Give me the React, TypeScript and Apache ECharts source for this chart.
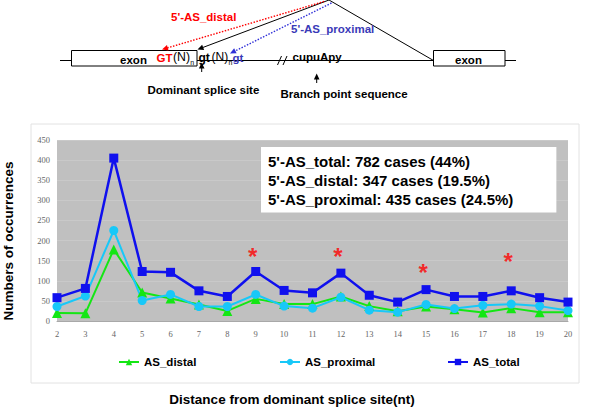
import React, { useEffect, useRef } from "react";
import * as echarts from "echarts";

// ---- data ----
const distances = ["2","3","4","5","6","7","8","9","10","11","12","13","14","15","16","17","18","19","20"];
const asDistal = [20, 19, 178, 71, 56, 41, 25, 55, 42, 42, 61, 37, 24, 36, 29, 21, 32, 22, 22];
const asProximal = [36, 62, 225, 51, 66, 36, 36, 66, 37, 32, 59, 27, 22, 41, 31, 39, 42, 37, 26];
const asTotal = [58, 81, 405, 123, 121, 75, 61, 123, 76, 70, 119, 64, 47, 78, 61, 61, 75, 58, 47];
const starDistances = ["9", "12", "15", "18"];
const starLevels = [172, 172, 133, 160];
const summaryLines = [
  "5'-AS_total: 782 cases (44%)",
  "5'-AS_distal: 347 cases (19.5%)",
  "5'-AS_proximal: 435 cases (24.5%)",
];
const yTicks = { min: 0, max: 450, interval: 50 };

const SANS = '"Liberation Sans", Arial, sans-serif';
const SERIF = '"Liberation Serif", "Times New Roman", serif';

function arrow(x1: number, y1: number, x2: number, y2: number, color: string, dashed: boolean, lw = 1) {
  const dx = x2 - x1, dy = y2 - y1;
  const len = Math.sqrt(dx * dx + dy * dy);
  const ux = dx / len, uy = dy / len;
  const hl = 6, hw = 2.8;
  const bx = x2 - ux * hl, by = y2 - uy * hl;
  const nx = -uy, ny = ux;
  return [
    {
      type: "line",
      shape: { x1, y1, x2: bx + ux * 1, y2: by + uy * 1 },
      style: { stroke: color, lineWidth: lw, lineDash: dashed ? [1.5, 1.5] : null },
      silent: true,
    },
    {
      type: "polygon",
      shape: { points: [[x2, y2], [bx + nx * hw, by + ny * hw], [bx - nx * hw, by - ny * hw]] },
      style: { fill: color },
      silent: true,
    },
  ];
}

function txt(x: number, y: number, text: string, opts: any = {}) {
  return {
    type: "text",
    x,
    y,
    rotation: opts.rotation || 0,
    silent: true,
    style: {
      text,
      fill: opts.fill || "#000",
      fontSize: opts.size || 11.5,
      fontWeight: opts.weight || "bold",
      fontFamily: SANS,
      align: opts.align || "left",
      verticalAlign: "middle",
    },
  };
}

export default function App() {
  const ref = useRef<HTMLDivElement>(null);
  useEffect(() => {
    if (!ref.current) return;
    const chart = echarts.init(ref.current, null, { renderer: "svg" });
    const red = "#ff0000";
    const blue = "#3a3ab8";
    const graphic: any[] = [
      // chart panel frame
      { type: "rect", shape: { x: 31, y: 124, width: 548, height: 259 }, style: { fill: "none", stroke: "#e2e2e2", lineWidth: 1 }, silent: true, z: -1 },
      // gene diagram
      { type: "line", shape: { x1: 60, y1: 60.5, x2: 71, y2: 60.5 }, style: { stroke: "#000", lineWidth: 1 } },
      { type: "line", shape: { x1: 197, y1: 60.5, x2: 433, y2: 60.5 }, style: { stroke: "#000", lineWidth: 1 } },
      { type: "line", shape: { x1: 505, y1: 60.5, x2: 516, y2: 60.5 }, style: { stroke: "#000", lineWidth: 1 } },
      { type: "rect", shape: { x: 71.5, y: 50.5, width: 125.5, height: 15.5 }, style: { fill: "#fff", stroke: "#000", lineWidth: 1 } },
      { type: "rect", shape: { x: 433.5, y: 50.5, width: 71.5, height: 15.5 }, style: { fill: "#fff", stroke: "#000", lineWidth: 1 } },
      { type: "line", shape: { x1: 329, y1: 0, x2: 433.5, y2: 60.5 }, style: { stroke: "#000", lineWidth: 1 } },
      ...arrow(329, 0, 197.5, 49.5, "#000", false, 1),
      ...arrow(324, 1.5, 162, 49.5, red, true, 1.4),
      ...arrow(331.5, 3, 230, 53.5, "#2f2fd8", true, 1.4),
      // double slash
      { type: "line", shape: { x1: 277.5, y1: 65, x2: 281.5, y2: 56 }, style: { stroke: "#000", lineWidth: 1 } },
      { type: "line", shape: { x1: 283, y1: 65, x2: 287, y2: 56 }, style: { stroke: "#000", lineWidth: 1 } },
      // upward arrows
      ...arrow(201.7, 72, 201.7, 62.5, "#000", false, 1),
      ...arrow(316.7, 83, 316.7, 73.5, "#000", false, 1),
      txt(171, 17, "5'-AS_distal", { fill: red }),
      txt(291, 28.5, "5'-AS_proximal", { fill: blue }),
      txt(133.5, 59.5, "exon", { align: "center" }),
      txt(468.5, 59.5, "exon", { align: "center" }),
      txt(156.5, 57.5, "GT", { fill: red, size: 11.5 }),
      txt(173, 56.5, "(N)", { weight: "normal", size: 12.3 }),
      txt(190.2, 62.5, "n", { weight: "normal", size: 7 }),
      txt(198.5, 57.5, "gt", { size: 12 }),
      txt(211.5, 56.5, "(N)", { weight: "normal", size: 12 }),
      txt(228.6, 62.5, "n", { weight: "normal", size: 7 }),
      txt(232.6, 57.5, "gt", { fill: blue, size: 11.5 }),
      txt(292.5, 57, "cupuApy"),
      txt(147.5, 90, "Dominant splice site"),
      txt(280.5, 93.5, "Branch point sequence"),
      // axis titles
      txt(8, 241, "Numbers of occurrences", { size: 13.5, align: "center", rotation: Math.PI / 2 }),
      txt(292, 399, "Distance from dominant splice site(nt)", { size: 13.5, align: "center" }),
    ];

    const legendBase = {
      orient: "horizontal",
      itemWidth: 20,
      itemHeight: 8,
      padding: 0,
      selectedMode: false,
      textStyle: { fontSize: 11.5, fontWeight: "bold", color: "#000", fontFamily: SANS, padding: [0, 0, 6, 0] },
    };

    chart.setOption({
      animation: false,
      backgroundColor: "#ffffff",
      title: {
        text: summaryLines.join("\n"),
        left: 261,
        top: 147,
        backgroundColor: "#ffffff",
        padding: [5, 43, 4, 7],
        textStyle: { fontSize: 15, fontWeight: "bold", color: "#000", fontFamily: SANS, lineHeight: 18.8 },
      },
      graphic,
      legend: [
        { ...legendBase, data: ["AS_distal"], left: 118, top: 356 },
        { ...legendBase, data: ["AS_proximal"], left: 279, top: 356 },
        { ...legendBase, data: ["AS_total"], left: 447, top: 356 },
      ],
      grid: {
        left: 57,
        right: 32,
        top: 140,
        bottom: 94,
        show: true,
        backgroundColor: "#c0c0c0",
        borderWidth: 0,
      },
      xAxis: {
        type: "category",
        data: distances,
        boundaryGap: false,
        axisLine: { show: true, lineStyle: { color: "#a8a8a8", width: 1 } },
        axisTick: { show: false },
        axisLabel: { color: "#666", fontSize: 8.5, fontFamily: SERIF, margin: 8 },
        splitLine: { show: false },
      },
      yAxis: {
        type: "value",
        min: yTicks.min,
        max: yTicks.max,
        interval: yTicks.interval,
        axisLine: { show: false },
        axisTick: { show: false },
        axisLabel: { color: "#666", fontSize: 8.5, fontFamily: SERIF, margin: 7 },
        splitLine: { show: true, lineStyle: { color: "#c9c9c9", width: 1 } },
      },
      series: [
        {
          name: "AS_distal",
          type: "line",
          data: asDistal,
          symbol: "triangle",
          symbolSize: 10,
          showAllSymbol: true,
          lineStyle: { color: "#14e614", width: 2 },
          itemStyle: { color: "#14e614" },
        },
        {
          name: "AS_proximal",
          type: "line",
          data: asProximal,
          symbol: "circle",
          symbolSize: 9,
          showAllSymbol: true,
          lineStyle: { color: "#18c8f8", width: 2 },
          itemStyle: { color: "#18c8f8" },
        },
        {
          name: "AS_total",
          type: "line",
          data: asTotal,
          symbol: "rect",
          symbolSize: 9,
          showAllSymbol: true,
          lineStyle: { color: "#1010ee", width: 2.5 },
          itemStyle: { color: "#1010ee" },
        },
        {
          name: "significant",
          type: "scatter",
          data: starDistances.map((d, i) => [d, starLevels[i]]),
          symbolSize: 1,
          itemStyle: { color: "rgba(0,0,0,0)" },
          label: {
            show: true,
            position: "inside",
            formatter: "*",
            color: "#ff0000",
            fontSize: 24,
            fontWeight: "bold",
            fontFamily: SANS,
            offset: [-3, 5],
          },
          silent: true,
        },
      ],
    });
    return () => chart.dispose();
  }, []);
  return <div ref={ref} style={{ position: "absolute", left: 0, top: 0, width: 600, height: 415 }} />;
}
